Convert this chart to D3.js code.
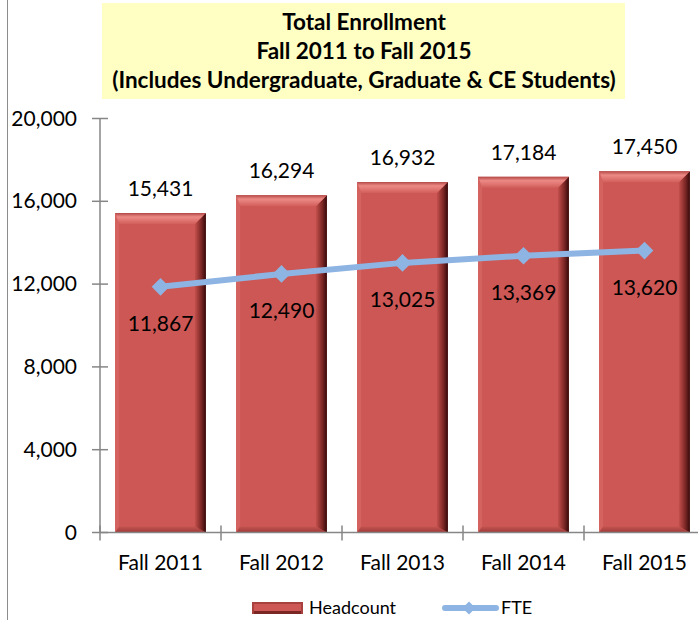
<!DOCTYPE html>
<html>
<head>
<meta charset="utf-8">
<script src="https://cdn.jsdelivr.net/npm/d3@7"></script>
<style>
  body { margin: 0; background: #ffffff; }
  text { font-family: Lato, "Open Sans", sans-serif; fill: #000000; }
</style>
</head>
<body>
<div id="chart"></div>
<script>
//Chart data
var years = ["Fall 2011", "Fall 2012", "Fall 2013", "Fall 2014", "Fall 2015"];
var headcount = [15431, 16294, 16932, 17184, 17450];
var fte = [11867, 12490, 13025, 13369, 13620];
var yTicks = [0, 4000, 8000, 12000, 16000, 20000];
var titleLines = ["Total Enrollment", "Fall 2011 to Fall 2015", "(Includes Undergraduate, Graduate & CE Students)"];

//Chart dimensions
var w = 698, h = 620;
var plot = {left: 100, right: 705, top: 118.5, bottom: 532.5};

var svg = d3.select("#chart").append("svg")
    .attr("width", w)
    .attr("height", h);

var defs = svg.append("defs");

//Gradients for the bevelled bars
var topGrad = defs.append("linearGradient").attr("id", "topBevel")
    .attr("x1", 0).attr("y1", 0).attr("x2", 0).attr("y2", 1);
topGrad.append("stop").attr("offset", "0%").attr("stop-color", "#b44946");
topGrad.append("stop").attr("offset", "35%").attr("stop-color", "#ec8a86");
topGrad.append("stop").attr("offset", "100%").attr("stop-color", "#d25e5a");

var rightGrad = defs.append("linearGradient").attr("id", "rightBevel")
    .attr("x1", 0).attr("y1", 0).attr("x2", 1).attr("y2", 0);
rightGrad.append("stop").attr("offset", "0%").attr("stop-color", "#c4504d");
rightGrad.append("stop").attr("offset", "60%").attr("stop-color", "#7a2624");
rightGrad.append("stop").attr("offset", "100%").attr("stop-color", "#340a0a");

var bottomGrad = defs.append("linearGradient").attr("id", "bottomBevel")
    .attr("x1", 0).attr("y1", 0).attr("x2", 0).attr("y2", 1);
bottomGrad.append("stop").attr("offset", "0%").attr("stop-color", "#c45450");
bottomGrad.append("stop").attr("offset", "100%").attr("stop-color", "#9c3a38");

//Scales
var x = d3.scaleBand()
    .domain(years)
    .range([plot.left, plot.right])
    .paddingInner(0.25)
    .paddingOuter(0.125);

var y = d3.scaleLinear()
    .domain([0, 20000])
    .range([plot.bottom, plot.top]);

var fmt = d3.format(",");

//Outer left border of the chart area
svg.append("line")
    .attr("x1", 7.5).attr("x2", 7.5)
    .attr("y1", 0).attr("y2", h)
    .attr("stroke", "#8c8c8c")
    .attr("stroke-width", 1);

//Title box
svg.append("rect")
    .attr("x", 102).attr("y", 3)
    .attr("width", 523).attr("height", 96)
    .attr("fill", "#ffffc4");

svg.selectAll(".title")
    .data(titleLines)
    .enter().append("text")
    .attr("class", "title")
    .attr("x", 364)
    .attr("y", function(d, i) { return 30 + i * 29; })
    .attr("text-anchor", "middle")
    .attr("font-size", "22.5px")
    .attr("font-weight", "bold")
    .text(function(d) { return d; });

//Bars with bevel
var bev = {top: 11, right: 11, left: 4, bottom: 6};
var bars = svg.selectAll(".bar")
    .data(headcount)
    .enter().append("g")
    .attr("class", "bar")
    .attr("transform", function(d, i) { return "translate(" + x(years[i]) + "," + y(d) + ")"; });

bars.each(function(d) {
    var g = d3.select(this);
    var bw = x.bandwidth();
    var bh = y(0) - y(d);
    //body
    g.append("rect").attr("width", bw).attr("height", bh).attr("fill", "#cd5754");
    //left bevel
    g.append("polygon")
        .attr("points", [[0, 0], [bev.left, bev.top], [bev.left, bh - bev.bottom], [0, bh]].join(" "))
        .attr("fill", "#d4625e");
    //bottom bevel
    g.append("polygon")
        .attr("points", [[0, bh], [bev.left, bh - bev.bottom], [bw - bev.right, bh - bev.bottom], [bw, bh]].join(" "))
        .attr("fill", "url(#bottomBevel)");
    //right bevel
    g.append("polygon")
        .attr("points", [[bw, 0], [bw - bev.right, bev.top], [bw - bev.right, bh - bev.bottom], [bw, bh]].join(" "))
        .attr("fill", "url(#rightBevel)");
    //top bevel
    g.append("polygon")
        .attr("points", [[0, 0], [bw, 0], [bw - bev.right, bev.top], [bev.left, bev.top]].join(" "))
        .attr("fill", "url(#topBevel)");
});

//Headcount labels
svg.selectAll(".hcLabel")
    .data(headcount)
    .enter().append("text")
    .attr("class", "hcLabel")
    .attr("x", function(d, i) { return x(years[i]) + x.bandwidth() / 2; })
    .attr("y", function(d) { return y(d) - 17; })
    .attr("text-anchor", "middle")
    .attr("font-size", "21px")
    .text(function(d) { return fmt(d); });

//Y axis
var yAxis = svg.append("g").attr("class", "yaxis");
yAxis.append("line")
    .attr("x1", plot.left).attr("x2", plot.left)
    .attr("y1", y(20000)).attr("y2", y(0))
    .attr("stroke", "#868686").attr("stroke-width", 1.5);
yAxis.selectAll(".ytick")
    .data(yTicks)
    .enter().append("line")
    .attr("x1", plot.left - 8).attr("x2", plot.left + 8)
    .attr("y1", function(d) { return y(d); })
    .attr("y2", function(d) { return y(d); })
    .attr("stroke", "#868686").attr("stroke-width", 1.5);
yAxis.selectAll(".ylabel")
    .data(yTicks)
    .enter().append("text")
    .attr("x", 77)
    .attr("y", function(d) { return y(d) + 7; })
    .attr("text-anchor", "end")
    .attr("font-size", "21px")
    .text(function(d) { return fmt(d); });

//X axis
var xAxis = svg.append("g").attr("class", "xaxis");
xAxis.append("line")
    .attr("x1", plot.left).attr("x2", w)
    .attr("y1", y(0)).attr("y2", y(0))
    .attr("stroke", "#868686").attr("stroke-width", 1.5);
xAxis.selectAll(".xtick")
    .data(years)
    .enter().append("line")
    .attr("x1", function(d) { return x(d) - x.step() * x.paddingInner() / 2; })
    .attr("x2", function(d) { return x(d) - x.step() * x.paddingInner() / 2; })
    .attr("y1", y(0) - 7).attr("y2", y(0) + 8)
    .attr("stroke", "#868686").attr("stroke-width", 1.5);
xAxis.selectAll(".xlabel")
    .data(years)
    .enter().append("text")
    .attr("x", function(d) { return x(d) + x.bandwidth() / 2; })
    .attr("y", 570)
    .attr("text-anchor", "middle")
    .attr("font-size", "21px")
    .text(function(d) { return d; });

//FTE line
var line = d3.line()
    .x(function(d, i) { return x(years[i]) + x.bandwidth() / 2; })
    .y(function(d) { return y(d); });

svg.append("path")
    .datum(fte)
    .attr("d", line)
    .attr("fill", "none")
    .attr("stroke", "#8db4e3")
    .attr("stroke-width", 6)
    .attr("stroke-linejoin", "round");

var diamond = d3.symbol().type(d3.symbolDiamond2).size(200);
svg.selectAll(".fteMark")
    .data(fte)
    .enter().append("path")
    .attr("class", "fteMark")
    .attr("d", diamond)
    .attr("transform", function(d, i) { return "translate(" + (x(years[i]) + x.bandwidth() / 2) + "," + y(d) + ")"; })
    .attr("fill", "#8db4e3");

svg.selectAll(".fteLabel")
    .data(fte)
    .enter().append("text")
    .attr("class", "fteLabel")
    .attr("x", function(d, i) { return x(years[i]) + x.bandwidth() / 2; })
    .attr("y", function(d) { return y(d) + 44; })
    .attr("text-anchor", "middle")
    .attr("font-size", "21px")
    .text(function(d) { return fmt(d); });

//Legend
var legend = svg.append("g").attr("class", "legend");
var sw = legend.append("g").attr("transform", "translate(252,602)");
sw.append("rect").attr("width", 51).attr("height", 12).attr("fill", "#a8403d");
sw.append("rect").attr("x", 2).attr("y", 2).attr("width", 47).attr("height", 7).attr("fill", "#cd5754");
sw.append("rect").attr("x", 2).attr("y", 9).attr("width", 47).attr("height", 3).attr("fill", "#7a2624");
legend.append("text")
    .attr("x", 309).attr("y", 614)
    .attr("font-size", "18px")
    .text("Headcount");
legend.append("line")
    .attr("x1", 445).attr("x2", 496)
    .attr("y1", 608).attr("y2", 608)
    .attr("stroke", "#8db4e3").attr("stroke-width", 6)
    .attr("stroke-linecap", "round");
legend.append("path")
    .attr("d", d3.symbol().type(d3.symbolDiamond2).size(110))
    .attr("transform", "translate(469,608)")
    .attr("fill", "#8db4e3");
legend.append("text")
    .attr("x", 501).attr("y", 614)
    .attr("font-size", "18px")
    .text("FTE");
</script>
</body>
</html>
